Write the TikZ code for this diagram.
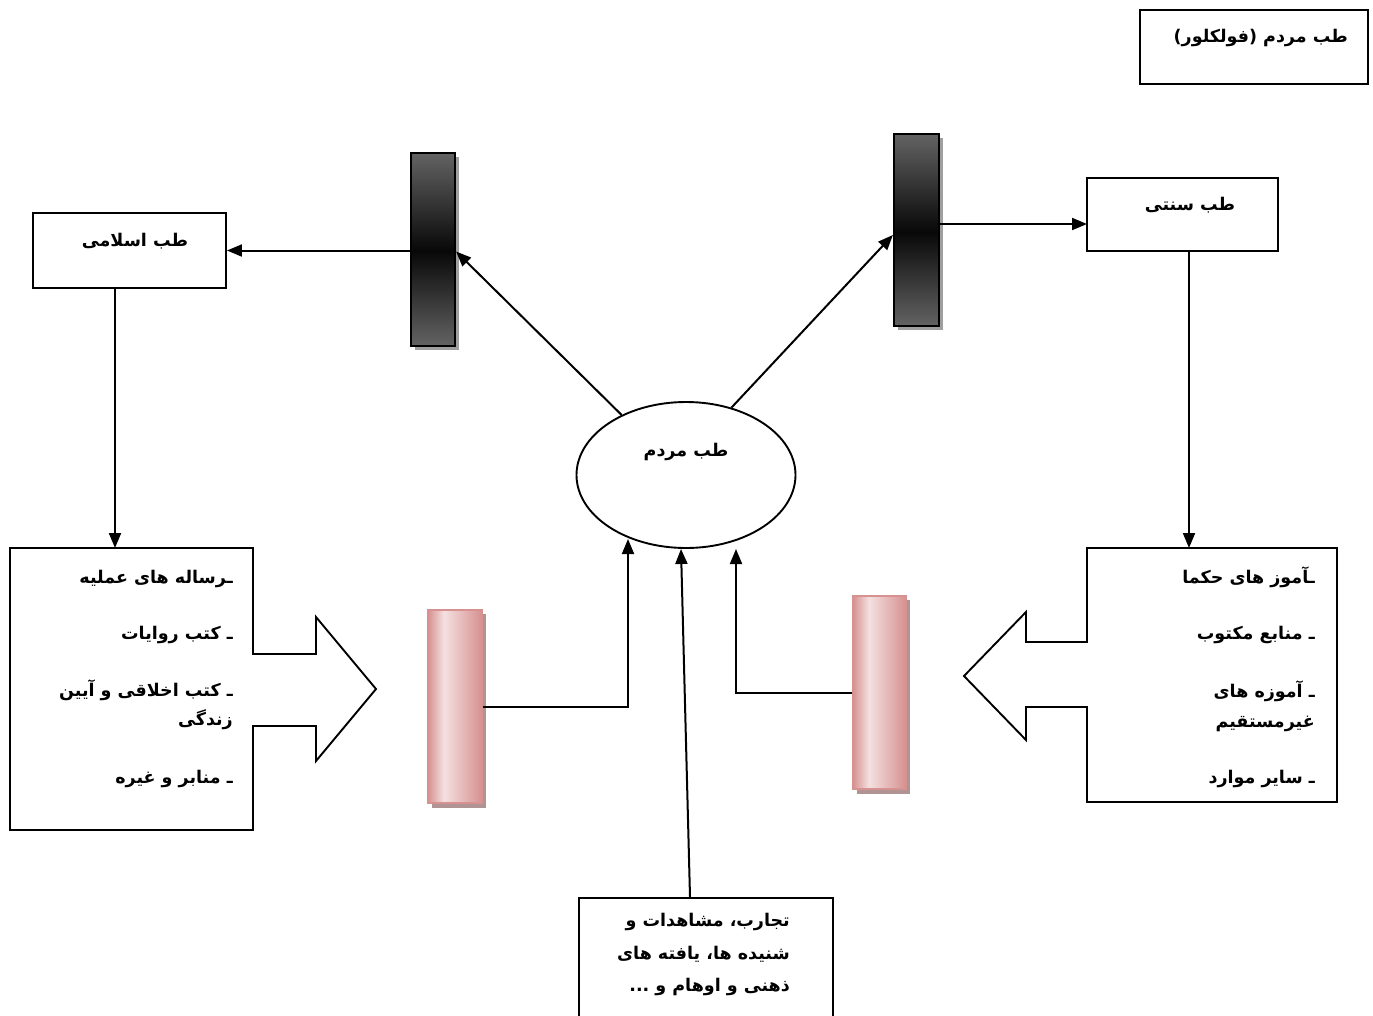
\documentclass[tikz,border=0pt]{standalone}
\usepackage{fontspec}
\newfontfamily\farsi[Script=Arabic]{DejaVu Sans}
\TeXXeTstate=1
\usetikzlibrary{arrows.meta,shapes.geometric}

% right-to-left Persian text
\newcommand{\fa}[1]{\beginR #1\endR}

\definecolor{barmid}{HTML}{080808}
\definecolor{baredge}{HTML}{636363}
\definecolor{pinkedge}{HTML}{D69190}
\definecolor{pinklight}{HTML}{F4E0E0}
\definecolor{pinkshadow}{HTML}{B09494}

\tikzset{
  frame/.style={draw=black, line width=1.9pt, fill=white, rectangle, inner sep=0pt},
  label/.style={font=\farsi\bfseries\fontsize{17.5}{33}\selectfont, inner sep=0pt, align=right},
  rlabel/.style={label, anchor=base east},
  clabel/.style={label, anchor=base},
  flow/.style={line width=2pt, -{Triangle[length=15pt,width=12pt]}},
  plain/.style={line width=1.9pt},
}

\begin{document}
\begin{tikzpicture}[x=1pt,y=-1pt]
\useasboundingbox (0,0) rectangle (1373,1015);

% ---- title box
\node[frame, minimum width=228pt, minimum height=74pt] (title) at (1254,47) {};
\node[rlabel] (titletxt) at (1348,42) {\fa{طب مردم (فولکلور)}};

% ---- upper boxes
\node[frame, minimum width=193pt, minimum height=75pt] (islamic) at (129.5,250.5) {};
\node[clabel] (islamictxt) at (135,246) {\fa{طب اسلامی}};
\node[frame, minimum width=191pt, minimum height=73pt] (sonnati) at (1182.5,214.5) {};
\node[clabel] (sonnatitxt) at (1190,210) {\fa{طب سنتی}};
\coordinate (sonnatiin) at (1087,224);

% ---- dark bars (shadow + two vertical gradients)
\fill[gray!75] (415,157) rectangle (459,350);
\shade[top color=baredge, bottom color=barmid] (411,153) rectangle (455,251);
\shade[top color=barmid, bottom color=baredge] (411,251) rectangle (455,346);
\node[draw=black, line width=2.2pt, minimum width=44pt, minimum height=193pt, inner sep=0pt] (barL) at (433,249.5) {};

\fill[gray!75] (898,138) rectangle (943,330);
\shade[top color=baredge, bottom color=barmid] (894,134) rectangle (939,232);
\shade[top color=barmid, bottom color=baredge] (894,232) rectangle (939,326);
\node[draw=black, line width=2.2pt, minimum width=45pt, minimum height=192pt, inner sep=0pt] (barR) at (916.5,230) {};

% ---- central ellipse
\node[draw=black, line width=1.9pt, ellipse, minimum width=219pt, minimum height=146pt, inner sep=0pt] (folk) at (686,475) {};
\node[clabel] (folktxt) at (686,456) {\fa{طب مردم}};

% ---- pink bars (shadow + horizontal gradient)
\fill[pinkshadow] (432,614) rectangle (486,808);
\shade[left color=pinkedge, right color=pinklight] (428,610) rectangle (444,803);
\shade[left color=pinklight, right color=pinkedge] (444,610) rectangle (482,803);
\node[draw=pinkedge, line width=1.8pt, minimum width=54pt, minimum height=193pt, inner sep=0pt] (pinkL) at (455,706.5) {};

\fill[pinkshadow] (857,600) rectangle (910,794);
\shade[left color=pinkedge, right color=pinklight] (853,596) rectangle (869,789);
\shade[left color=pinklight, right color=pinkedge] (869,596) rectangle (906,789);
\node[draw=pinkedge, line width=1.8pt, minimum width=53pt, minimum height=193pt, inner sep=0pt] (pinkR) at (879.5,692.5) {};

% ---- callout boxes with block arrows
\draw[plain, fill=white] (10,548) -- (253,548) -- (253,654) -- (316,654) -- (316,617)
  -- (376,689) -- (316,761) -- (316,726) -- (253,726) -- (253,830) -- (10,830) -- cycle;
\coordinate (srcL) at (115,548);
\node[rlabel] (l1) at (233,583) {\fa{ـرساله های عملیه}};
\node[rlabel] (l2) at (233,639) {\fa{ـ کتب روایات}};
\node[rlabel] (l3) at (233,696) {\fa{ـ کتب اخلاقی و آیین}};
\node[rlabel] (l4) at (233,725) {\fa{زندگی}};
\node[rlabel] (l5) at (233,783) {\fa{ـ منابر و غیره}};

\draw[plain, fill=white] (1337,548) -- (1087,548) -- (1087,642) -- (1026,642) -- (1026,612)
  -- (964,676) -- (1026,740) -- (1026,707) -- (1087,707) -- (1087,802) -- (1337,802) -- cycle;
\coordinate (srcR) at (1189,548);
\node[rlabel] (r1) at (1315,583) {\fa{ـآموز های حکما}};
\node[rlabel] (r2) at (1315,639) {\fa{ـ منابع مکتوب}};
\node[rlabel] (r3) at (1315,697) {\fa{ـ آموزه های}};
\node[rlabel] (r4) at (1315,727) {\fa{غیرمستقیم}};
\node[rlabel] (r5) at (1315,783) {\fa{ـ سایر موارد}};

% ---- bottom box
\node[frame, minimum width=254pt, minimum height=140pt, anchor=north west] (exp) at (578,897) {};
\node[rlabel] (e1) at (790,926) {\fa{تجارب، مشاهدات و}};
\node[rlabel] (e2) at (790,959) {\fa{شنیده ها، یافته های}};
\node[rlabel] (e3) at (790,991) {\fa{ذهنی و اوهام و ...}};

% ---- connectors
\draw[flow] (folk.137) -- ([yshift=-2pt]barL.east);
\draw[flow] (islamic.east -| barL.west) -- (islamic.east);
\draw[flow] (folk.56) -- ([yshift=-5pt]barR.west);
\draw[flow] (sonnatiin -| barR.east) -- (sonnatiin);
\draw[flow] (islamic.south -| srcL) -- (srcL);
\draw[flow] (sonnati.south -| srcR) -- (srcR);
\draw[flow] (pinkL.east) -| (628,539);
\draw[flow] (pinkR.west) -| (736,549);
\draw[flow] (exp.north -| 690,0) -- (folk.south -| 681,0);
\end{tikzpicture}
\end{document}
